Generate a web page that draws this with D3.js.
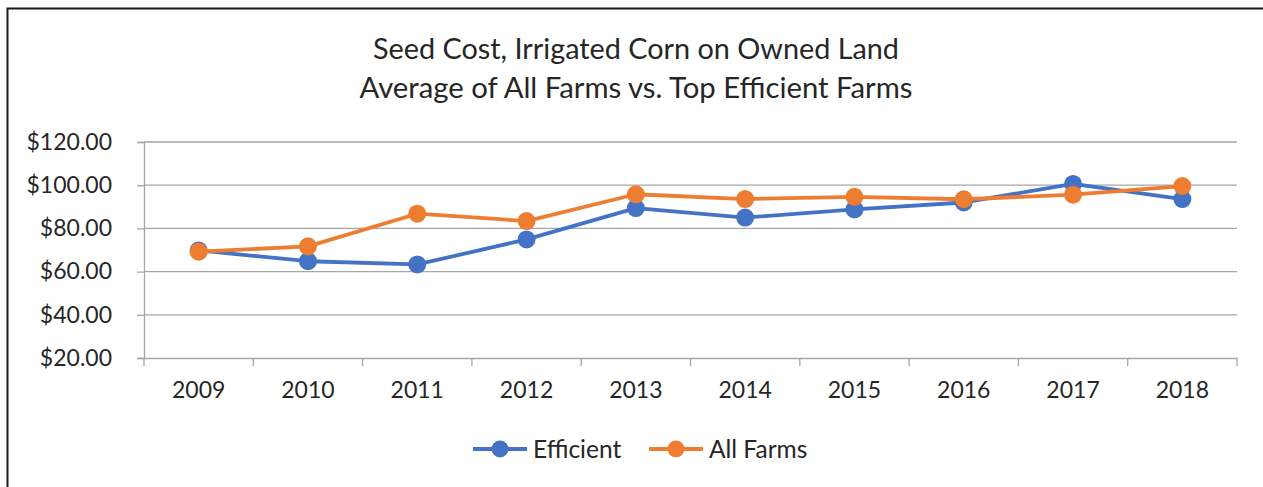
<!DOCTYPE html>
<html>
<head>
<meta charset="utf-8">
<script src="https://cdn.jsdelivr.net/npm/d3@7/dist/d3.min.js"></script>
<style>
  html, body { margin: 0; padding: 0; background: #fff; }
  svg { display: block; }
  text { font-family: Lato, "Open Sans", sans-serif; fill: #262626; }
</style>
</head>
<body>
<svg id="chart" width="1263" height="487"></svg>
<script>
// Seed cost per acre, irrigated corn on owned land
const years = ["2009", "2010", "2011", "2012", "2013", "2014", "2015", "2016", "2017", "2018"];
const efficient = [69.8, 64.8, 63.3, 74.9, 89.4, 85.0, 88.8, 92.0, 100.6, 93.6];
const allFarms = [69.2, 71.7, 86.8, 83.4, 95.8, 93.6, 94.6, 93.5, 95.6, 99.6];
const yTicks = [20, 40, 60, 80, 100, 120];
const titleLines = ["Seed Cost, Irrigated Corn on Owned Land", "Average of All Farms vs. Top Efficient Farms"];
const seriesNames = ["Efficient", "All Farms"];
const colors = ["#4472c4", "#ed7d31"];

const svg = d3.select("#chart");

// outer frame
svg.append("rect")
  .attr("x", 7.5).attr("y", 8.5)
  .attr("width", 1270).attr("height", 500)
  .attr("fill", "#fff")
  .attr("stroke", "#1a1a1a").attr("stroke-width", 2);

// title
svg.selectAll("text.title").data(titleLines).join("text")
  .attr("class", "title")
  .attr("x", 636)
  .attr("y", (d, i) => 59 + i * 39)
  .attr("text-anchor", "middle")
  .attr("font-size", 29)
  .attr("textLength", (d, i) => i === 0 ? 526 : 553)
  .attr("lengthAdjust", "spacingAndGlyphs")
  .text(d => d);

const plotLeft = 144, plotRight = 1237, plotTop = 142, plotBottom = 358;

const x = d3.scaleBand().domain(years).range([plotLeft, plotRight]);
const y = d3.scaleLinear().domain([20, 120]).range([plotBottom, plotTop]);

// horizontal gridlines
svg.append("g")
  .selectAll("line").data(yTicks.slice(1)).join("line")
  .attr("x1", plotLeft).attr("x2", plotRight)
  .attr("y1", d => y(d)).attr("y2", d => y(d))
  .attr("stroke", "#a6a6a6").attr("stroke-width", 1.3);

// y axis
const yAxis = svg.append("g")
  .attr("transform", `translate(${plotLeft},0)`)
  .call(d3.axisLeft(y).tickValues(yTicks).tickSize(7).tickPadding(25)
    .tickFormat(d => "$" + d3.format(".2f")(d)));
yAxis.select(".domain").attr("stroke", "#a6a6a6").attr("stroke-width", 1.3);
yAxis.selectAll(".tick line").attr("stroke", "#a6a6a6").attr("stroke-width", 1.3);
yAxis.selectAll(".tick text")
  .attr("font-size", 23).attr("font-family", "Lato, sans-serif").attr("fill", "#262626");

// x axis with ticks on category boundaries
const xAxis = svg.append("g")
  .attr("transform", `translate(0,${plotBottom})`)
  .call(d3.axisBottom(x).tickSize(0).tickPadding(24));
xAxis.select(".domain").attr("stroke", "#a6a6a6").attr("stroke-width", 1.3);
xAxis.selectAll(".tick text")
  .attr("font-size", 23).attr("font-family", "Lato, sans-serif").attr("fill", "#262626");
xAxis.selectAll("line.bound")
  .data(years.map(d => x(d)).concat([x(years[years.length - 1]) + x.bandwidth()]))
  .join("line")
  .attr("class", "bound")
  .attr("x1", d => d).attr("x2", d => d)
  .attr("y1", 0).attr("y2", 8)
  .attr("stroke", "#a6a6a6").attr("stroke-width", 1.3);

// series lines and markers
const cx = d => x(d) + x.bandwidth() / 2;
const line = d3.line().x((d, i) => cx(years[i])).y(d => y(d));
[efficient, allFarms].forEach((vals, k) => {
  const g = svg.append("g");
  g.append("path")
    .datum(vals)
    .attr("d", line)
    .attr("fill", "none")
    .attr("stroke", colors[k])
    .attr("stroke-width", 3.8)
    .attr("stroke-linejoin", "round");
  g.selectAll("circle").data(vals).join("circle")
    .attr("cx", (d, i) => cx(years[i]))
    .attr("cy", d => y(d))
    .attr("r", 9)
    .attr("fill", colors[k]);
});

// legend
const legendItems = [{ x: 473 }, { x: 649 }];
legendItems.forEach((it, k) => {
  const g = svg.append("g").attr("transform", `translate(${it.x},449)`);
  g.append("line").attr("x1", 0).attr("x2", 54).attr("y1", 0).attr("y2", 0)
    .attr("stroke", colors[k]).attr("stroke-width", 3.8);
  g.append("circle").attr("cx", 27).attr("cy", 0).attr("r", 8.5).attr("fill", colors[k]);
  g.append("text").attr("x", 60).attr("y", 8.5).attr("font-size", 24.5).text(seriesNames[k]);
});
</script>
</body>
</html>
